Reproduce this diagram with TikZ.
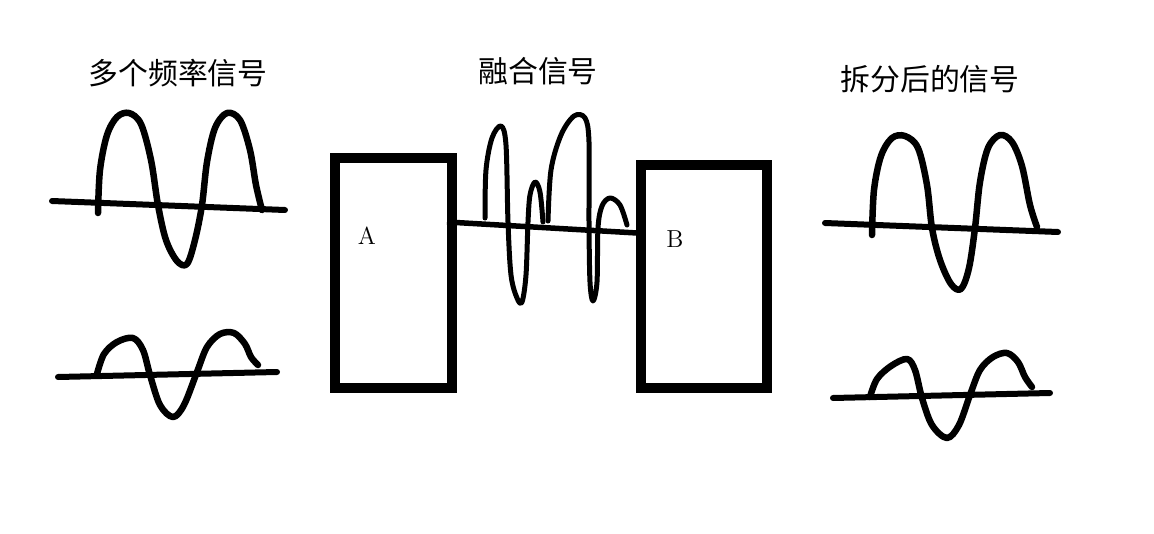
\documentclass[tikz,border=0pt]{standalone}
\usepackage{fontspec}
\newfontfamily\cjk{Noto Sans CJK SC}
\begin{document}
\begin{tikzpicture}[x=0.02cm,y=-0.02cm,
  wave/.style={line width=0.13cm, line cap=round, line join=round},
  axis/.style={line width=0.12cm, line cap=round},
  fused/.style={line width=0.1cm, line cap=round, line join=round},
  boxnode/.style={draw, line width=0.2cm, inner sep=0pt, outer sep=0pt},
  title/.style={font=\cjk\fontsize{17}{20}\selectfont},
  lbl/.style={font=\fontsize{14}{16}\selectfont}]
\useasboundingbox[fill=white] (0,0) rectangle (1154,534);

% titles
\node[title] (t1) at (178,73) {多个频率信号};
\node[title] (t2) at (538,71) {融合信号};
\node[title] (t3) at (930,79) {拆分后的信号};

% boxes
\node[boxnode, minimum width=2.34cm, minimum height=4.6cm] (A) at (393.5,273) {};
\node[boxnode, minimum width=2.52cm, minimum height=4.46cm] (B) at (704,276.5) {};
\node[lbl] (la) at (367,236) {A};
\node[lbl] (lb) at (675,239) {B};

% middle line
\coordinate (m1) at (447,222);
\coordinate (m2) at (637,233);
\draw[line width=0.11cm] (m1) -- (m2);

% fused signal
\draw[fused] plot[smooth, tension=0.55] coordinates {
 (485,218) (486,170) (492,138) (501,126) (506,145) (508,222) (511,275) (517,298) (522,302)
 (526,275) (528,222) (530,195) (535,182) (540,192) (543,222)};
\draw[fused] plot[smooth, tension=0.55] coordinates {
 (548,221) (551,170) (561,135) (574,116) (585,118) (589,142) (589,222) (590,282) (593,301)
 (597,282) (598,228) (602,206) (610,198) (620,205) (627,225)};

% wave 1 (top left)
\draw[axis] (52,201) -- (285,210);
\draw[wave] plot[smooth, tension=0.55] coordinates {
 (98,213) (100,170) (107,135) (117,117) (129,113) (141,124) (151,160) (158,205) (166,240)
 (177,261) (187,264) (195,240) (202,205) (207,162) (215,128) (227,113) (240,120) (250,150)
 (256,185) (262,210)};

% wave 2 (bottom left)
\draw[axis] (58,377) -- (277,372);
\draw[wave] plot[smooth, tension=0.55] coordinates {
 (97,374) (104,354) (117,342) (133,338) (143,350) (150,375) (160,405) (173,417) (184,405)
 (197,372) (207,347) (220,334) (234,333) (245,344) (251,357) (258,365)};

% wave 3 (top right)
\draw[axis] (825,223) -- (1058,232);
\draw[wave] plot[smooth, tension=0.55] coordinates {
 (872,235) (874,190) (881,156) (892,138) (905,136) (918,148) (927,185) (932,228) (940,260)
 (951,284) (961,289) (969,268) (975,228) (980,182) (988,148) (1000,135) (1012,142)
 (1022,166) (1030,205) (1037,227)};

% wave 4 (bottom right)
\draw[axis] (833,398) -- (1050,393);
\draw[wave] plot[smooth, tension=0.55] coordinates {
 (870,397) (877,379) (891,366) (907,359) (915,370) (922,398) (932,425) (947,438) (959,425)
 (970,395) (980,370) (993,357) (1007,353) (1018,362) (1025,377) (1032,387)};
\end{tikzpicture}
\end{document}
